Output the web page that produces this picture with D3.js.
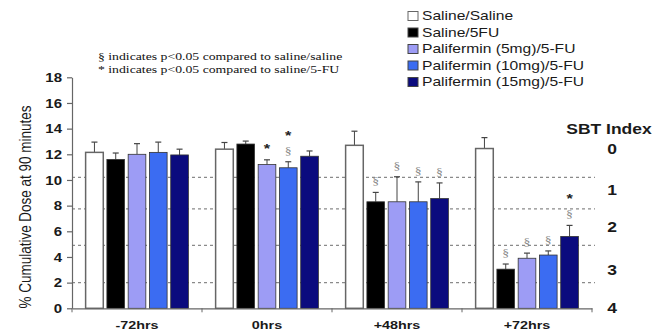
<!DOCTYPE html>
<html>
<head>
<meta charset="utf-8">
<script src="https://cdn.jsdelivr.net/npm/d3@7"></script>
<style>
  html, body { margin: 0; padding: 0; background: #fff; }
  svg { display: block; font-family: "Liberation Sans", Arial, sans-serif; }
  .serif { font-family: "Liberation Serif", "Times New Roman", serif; }
</style>
</head>
<body>
<svg id="chart" width="664" height="335"></svg>
<script>
// data
const categories = ["-72hrs", "0hrs", "+48hrs", "+72hrs"];
const series = ["Saline/Saline", "Saline/5FU", "Palifermin (5mg)/5-FU", "Palifermin (10mg)/5-FU", "Palifermin (15mg)/5-FU"];
const colors = ["#ffffff", "#000000", "#9d9cf5", "#3b6cf2", "#0b0b7e"];

const salineSaline = [12.15, 12.4, 12.7, 12.45];
const saline5fu = [11.6, 12.8, 8.3, 3.05];
const pal5 = [12.0, 11.2, 8.3, 3.9];
const pal10 = [12.15, 10.95, 8.3, 4.15];
const pal15 = [11.95, 11.85, 8.55, 5.6];

const errSalineSaline = [0.8, 0.52, 1.1, 0.85];
const errSaline5fu = [0.5, 0.23, 0.73, 0.4];
const errPal5 = [0.83, 0.37, 1.95, 0.4];
const errPal10 = [0.8, 0.47, 1.55, 0.32];
const errPal15 = [0.45, 0.41, 1.22, 0.86];

// significance marks per bar ("§" = vs saline/saline, "*" = vs saline/5-FU)
const marks = [
  ["", "", "", "", ""],
  ["", "", "*", "*§", ""],
  ["", "§", "§", "§", "§"],
  ["", "§", "§", "§", "*§"],
];

const yTicks = [0, 2, 4, 6, 8, 10, 12, 14, 16, 18];
const sbtLabels = ["0", "1", "2", "3", "4"];
const sbtAt = [12.4, 9.2, 6.3, 3.0, 0];
const sbtLines = [10.2, 7.75, 4.9, 2.0];

const notes = [
  "§ indicates p<0.05 compared to saline/saline",
  "* indicates p<0.05 compared to saline/5-FU",
];

const means = [salineSaline, saline5fu, pal5, pal10, pal15];
const errs = [errSalineSaline, errSaline5fu, errPal5, errPal10, errPal15];

// the reference looks stretched sideways, so text gets a horizontal scale
const SX = 1.25;

const svg = d3.select("#chart");
const plotL = 72, plotR = 592, plotT = 77.3, plotB = 308.3;

const x0 = d3.scaleBand().domain(categories).range([plotL, plotR]).padding(0);
const x1 = d3.scaleBand().domain(series).range([0, x0.bandwidth()])
  .paddingInner(0.17).paddingOuter(0.64);
const y = d3.scaleLinear().domain([0, 18]).range([plotB, plotT]);

const stretched = (sel, x, yy) => sel.attr("transform", `translate(${x},${yy}) scale(${SX},1)`);

// dashed SBT reference lines (behind the bars)
svg.append("g")
  .selectAll("line")
  .data(sbtLines)
  .join("line")
  .attr("x1", plotL).attr("x2", plotR + 3)
  .attr("y1", (d) => y(d)).attr("y2", (d) => y(d))
  .attr("stroke", "#8a8a8a")
  .attr("stroke-width", 1.2)
  .attr("stroke-dasharray", "3,3");

// bars
const rows = [];
categories.forEach((c, ci) => {
  series.forEach((s, si) => {
    rows.push({ c, s, si, v: means[si][ci], e: errs[si][ci], m: marks[ci][si] });
  });
});

const barX = (d) => x0(d.c) + x1(d.s);
const bw = x1.bandwidth();

const errG = svg.append("g");
errG.selectAll("line.stem")
  .data(rows)
  .join("line")
  .attr("class", "stem")
  .attr("x1", (d) => barX(d) + bw / 2).attr("x2", (d) => barX(d) + bw / 2)
  .attr("y1", (d) => y(d.v)).attr("y2", (d) => y(d.v + d.e))
  .attr("stroke", "#444").attr("stroke-width", 1);
errG.selectAll("line.cap")
  .data(rows)
  .join("line")
  .attr("class", "cap")
  .attr("x1", (d) => barX(d) + bw / 2 - 3).attr("x2", (d) => barX(d) + bw / 2 + 3)
  .attr("y1", (d) => y(d.v + d.e)).attr("y2", (d) => y(d.v + d.e))
  .attr("stroke", "#444").attr("stroke-width", 1.2);

svg.append("g")
  .selectAll("rect")
  .data(rows)
  .join("rect")
  .attr("x", barX)
  .attr("y", (d) => y(d.v))
  .attr("width", bw)
  .attr("height", (d) => y(0) - y(d.v))
  .attr("fill", (d) => colors[d.si])
  .attr("stroke", (d) => (d.si === 0 ? "#666" : "#333"))
  .attr("stroke-width", (d) => (d.si === 0 ? 1.5 : 0.8));

// significance symbols stacked above the error bars
const symG = svg.append("g");
rows.filter((d) => d.m).forEach((d) => {
  const cx = barX(d) + bw / 2;
  const syms = d.m.split("").reverse(); // bottom first
  let yy = y(d.v + d.e) - 12;
  syms.forEach((ch) => {
    if (ch === "§") {
      stretched(symG.append("text"), cx, yy)
        .attr("class", "serif")
        .attr("text-anchor", "middle")
        .attr("dy", "0.35em")
        .attr("font-size", 11)
        .attr("fill", "#888")
        .text("§");
    } else {
      stretched(symG.append("text"), cx, yy + 5)
        .attr("text-anchor", "middle")
        .attr("font-size", 13)
        .attr("font-weight", "bold")
        .attr("fill", "#222")
        .text("*");
    }
    yy -= 15;
  });
});

// y axis
const yAxis = svg.append("g")
  .attr("transform", `translate(${plotL},0)`)
  .call(d3.axisLeft(y).tickValues(yTicks).tickSize(5).tickSizeOuter(0));
yAxis.select(".domain").attr("stroke", "#666").attr("stroke-width", 1.2);
yAxis.selectAll(".tick line").attr("stroke", "#666").attr("stroke-width", 1.2);
yAxis.selectAll(".tick text")
  .attr("x", null)
  .attr("transform", `translate(-10,0) scale(${SX},1)`)
  .attr("dy", "0.35em")
  .attr("font-size", 12)
  .attr("font-weight", "bold")
  .attr("fill", "#1a1a1a")
  .attr("font-family", "Liberation Sans, Arial, sans-serif");

// x axis
const xAxis = svg.append("g")
  .attr("transform", `translate(0,${plotB})`)
  .call(d3.axisBottom(x0).tickSize(0).tickSizeOuter(0).tickPadding(13));
xAxis.select(".domain").attr("stroke", "#666").attr("stroke-width", 1.2);
xAxis.selectAll(".tick text")
  .attr("y", null)
  .attr("transform", `translate(0,13) scale(${SX},1)`)
  .attr("dy", "0.71em")
  .attr("font-size", 11.5)
  .attr("font-weight", "bold")
  .attr("fill", "#1a1a1a")
  .attr("font-family", "Liberation Sans, Arial, sans-serif");
const bounds = categories.map((c) => x0(c)).concat([x0(categories[categories.length - 1]) + x0.bandwidth()]);
xAxis.selectAll("line.bound")
  .data(bounds)
  .join("line")
  .attr("class", "bound")
  .attr("x1", (d) => d).attr("x2", (d) => d)
  .attr("y1", 0).attr("y2", 4)
  .attr("stroke", "#666").attr("stroke-width", 1);

// y title
svg.append("text")
  .attr("transform", `translate(25,207) scale(${SX},1) rotate(-90)`)
  .attr("text-anchor", "middle")
  .attr("dy", "0.35em")
  .attr("font-size", 13.5)
  .attr("fill", "#1a1a1a")
  .text("% Cumulative Dose at 90 minutes");

// SBT index on the right
stretched(svg.append("text"), 609, 129)
  .attr("text-anchor", "middle")
  .attr("dy", "0.35em")
  .attr("font-size", 14)
  .attr("font-weight", "bold")
  .attr("fill", "#1a1a1a")
  .text("SBT Index");
svg.append("g")
  .selectAll("text")
  .data(sbtLabels)
  .join("text")
  .attr("transform", (d, i) => `translate(612,${y(sbtAt[i])}) scale(${SX},1)`)
  .attr("text-anchor", "middle")
  .attr("dy", "0.35em")
  .attr("font-size", 14)
  .attr("font-weight", "bold")
  .attr("fill", "#1a1a1a")
  .text((d) => d);

// footnotes
svg.append("g")
  .selectAll("text")
  .data(notes)
  .join("text")
  .attr("class", "serif")
  .attr("transform", (d, i) => `translate(98,${60 + i * 12.5}) scale(${SX},1)`)
  .attr("font-size", 11)
  .attr("fill", "#111")
  .text((d) => d);

// legend
const leg = svg.append("g")
  .selectAll("g")
  .data(series)
  .join("g")
  .attr("transform", (d, i) => `translate(408,${16 + i * 16.5})`);
leg.append("rect")
  .attr("x", 0).attr("y", -4.5)
  .attr("width", 10).attr("height", 9)
  .attr("fill", (d, i) => colors[i])
  .attr("stroke", (d, i) => (i === 0 ? "#666" : "#444"))
  .attr("stroke-width", 1);
leg.append("text")
  .attr("transform", `translate(14,0) scale(${SX},1)`)
  .attr("dy", "0.35em")
  .attr("font-size", 12.5)
  .attr("fill", "#1a1a1a")
  .text((d) => d);
</script>
</body>
</html>
